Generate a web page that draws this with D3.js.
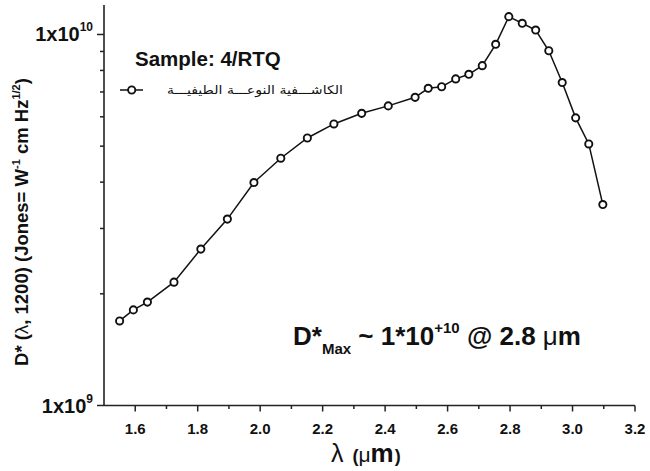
<!DOCTYPE html>
<html><head><meta charset="utf-8">
<script src="https://cdn.jsdelivr.net/npm/d3@7"></script>
<style>
body{margin:0;background:#fff;}
svg{display:block;}
text{font-family:"Liberation Sans",Arial,Helvetica,sans-serif;fill:#111;}
</style></head>
<body>
<svg id="chart" width="650" height="471"></svg>
<script>
// ---- data ----
const lambdas = [1.55, 1.594, 1.639, 1.724, 1.81, 1.895, 1.98, 2.066, 2.151, 2.236, 2.325, 2.41, 2.496, 2.538, 2.581, 2.626, 2.668, 2.711, 2.754, 2.796, 2.839, 2.882, 2.924, 2.967, 3.01, 3.052, 3.097];
const detectivity = [1.69e9, 1.81e9, 1.90e9, 2.15e9, 2.64e9, 3.18e9, 3.99e9, 4.64e9, 5.26e9, 5.74e9, 6.13e9, 6.42e9, 6.77e9, 7.16e9, 7.23e9, 7.59e9, 7.81e9, 8.24e9, 9.41e9, 1.117e10, 1.072e10, 1.028e10, 9.04e9, 7.42e9, 5.96e9, 5.07e9, 3.48e9];
const xMajorTicks = [1.6, 1.8, 2.0, 2.2, 2.4, 2.6, 2.8, 3.0, 3.2];
const xMinorTicks = [1.7, 1.9, 2.1, 2.3, 2.5, 2.7, 2.9, 3.1];
const yMajorTicks = [1e9, 1e10];
const yMajorExp = ["9", "10"];
const yMinorTicks = [2e9, 3e9, 4e9, 5e9, 6e9, 7e9, 8e9, 9e9];
const legendLabel = "الكاشـــفية النوعـــة الطيفيـــة";
const sampleLabel = "Sample: 4/RTQ";

const svg = d3.select("#chart");
const x = d3.scaleLinear().domain([1.5, 3.2]).range([104, 635]);
const y = d3.scaleLog().domain([1e9, 1.2e10]).range([405.5, 5.1]);

// axes lines
svg.append("line").attr("x1", x(1.5)).attr("x2", x(1.5)).attr("y1", y(1.2e10)).attr("y2", y(1e9))
  .attr("stroke", "#222").attr("stroke-width", 1.6);
svg.append("line").attr("x1", x(1.5)).attr("x2", x(3.2)).attr("y1", y(1e9)).attr("y2", y(1e9))
  .attr("stroke", "#222").attr("stroke-width", 1.6);

// x ticks
svg.selectAll(".xmaj").data(xMajorTicks).enter().append("line")
  .attr("x1", d => x(d)).attr("x2", d => x(d)).attr("y1", y(1e9)).attr("y2", y(1e9) + 6)
  .attr("stroke", "#222").attr("stroke-width", 1.5);
svg.selectAll(".xmin").data(xMinorTicks).enter().append("line")
  .attr("x1", d => x(d)).attr("x2", d => x(d)).attr("y1", y(1e9)).attr("y2", y(1e9) + 3.5)
  .attr("stroke", "#222").attr("stroke-width", 1.5);
svg.selectAll(".xlab").data(xMajorTicks).enter().append("text")
  .attr("x", d => x(d)).attr("y", 434).attr("text-anchor", "middle")
  .attr("font-size", 15).attr("font-weight", "bold").text(d => d.toFixed(1));

// y ticks
svg.selectAll(".ymaj").data(yMajorTicks).enter().append("line")
  .attr("x1", x(1.5) - 7).attr("x2", x(1.5)).attr("y1", d => y(d)).attr("y2", d => y(d))
  .attr("stroke", "#222").attr("stroke-width", 1.5);
svg.selectAll(".ymin").data(yMinorTicks).enter().append("line")
  .attr("x1", x(1.5) - 4).attr("x2", x(1.5)).attr("y1", d => y(d)).attr("y2", d => y(d))
  .attr("stroke", "#222").attr("stroke-width", 1.5);
yMajorTicks.forEach((d, i) => {
  const t = svg.append("text").attr("x", 93).attr("y", y(d) + 7).attr("text-anchor", "end")
    .attr("font-size", 20).attr("font-weight", "bold");
  t.append("tspan").text("1x10");
  t.append("tspan").attr("font-size", 12).attr("dy", -10).text(yMajorExp[i]);
});

// series line + markers
const pts = lambdas.map((l, i) => [l, detectivity[i]]);
svg.append("path").datum(pts)
  .attr("d", d3.line().x(d => x(d[0])).y(d => y(d[1])))
  .attr("fill", "none").attr("stroke", "#111").attr("stroke-width", 1.5);
svg.selectAll(".pt").data(pts).enter().append("circle")
  .attr("cx", d => x(d[0])).attr("cy", d => y(d[1])).attr("r", 3.6)
  .attr("fill", "#fff").attr("stroke", "#111").attr("stroke-width", 1.9);

// sample label & legend
svg.append("text").attr("x", 135).attr("y", 66).attr("font-size", 20.5).attr("font-weight", "bold").text(sampleLabel);
svg.append("line").attr("x1", 120).attr("x2", 143).attr("y1", 90).attr("y2", 90)
  .attr("stroke", "#111").attr("stroke-width", 1.5);
svg.append("circle").attr("cx", 131.7).attr("cy", 90).attr("r", 3.6)
  .attr("fill", "#fff").attr("stroke", "#111").attr("stroke-width", 1.9);
svg.append("text").attr("x", 167).attr("y", 94)
  .attr("textLength", 176).attr("lengthAdjust", "spacingAndGlyphs")
  .style("font-family", "'DejaVu Sans', sans-serif").attr("font-size", 12).text(legendLabel);

// y axis title
const yt = svg.append("text").attr("transform", "translate(28,222) rotate(-90)")
  .attr("text-anchor", "middle").attr("font-size", 18.5).attr("font-weight", "bold");
yt.append("tspan").text("D* (");
yt.append("tspan").attr("font-weight", "normal").text("λ");
yt.append("tspan").text(", 1200) (Jones= W");
yt.append("tspan").attr("font-size", 11).attr("dy", -8).text("-1");
yt.append("tspan").attr("dy", 8).text(" cm Hz");
yt.append("tspan").attr("font-size", 11).attr("dy", -8).text("1/2");
yt.append("tspan").attr("dy", 8).text(")");

// x axis title
const xt = svg.append("text").attr("x", 331).attr("y", 462).attr("font-size", 25);
xt.append("tspan").text("λ");
xt.append("tspan").attr("dx", 9).attr("font-size", 18).attr("font-weight", "bold").text("(");
xt.append("tspan").attr("font-size", 21).text("μ");
xt.append("tspan").attr("font-size", 26).attr("font-weight", "bold").text("m");
xt.append("tspan").attr("dx", 1).attr("font-size", 18).attr("font-weight", "bold").text(")");

// annotation
const an = svg.append("text").attr("x", 293).attr("y", 345).attr("font-size", 26).attr("font-weight", "bold");
an.append("tspan").text("D*");
an.append("tspan").attr("font-size", 15).attr("dy", 9).text("Max");
an.append("tspan").attr("dy", -9).text(" ~ 1*10");
an.append("tspan").attr("font-size", 15).attr("dy", -12).text("+10");
an.append("tspan").attr("dy", 12).text(" @ 2.8 ");
an.append("tspan").attr("font-weight", "normal").text("μ");
an.append("tspan").text("m");
</script>
</body></html>
